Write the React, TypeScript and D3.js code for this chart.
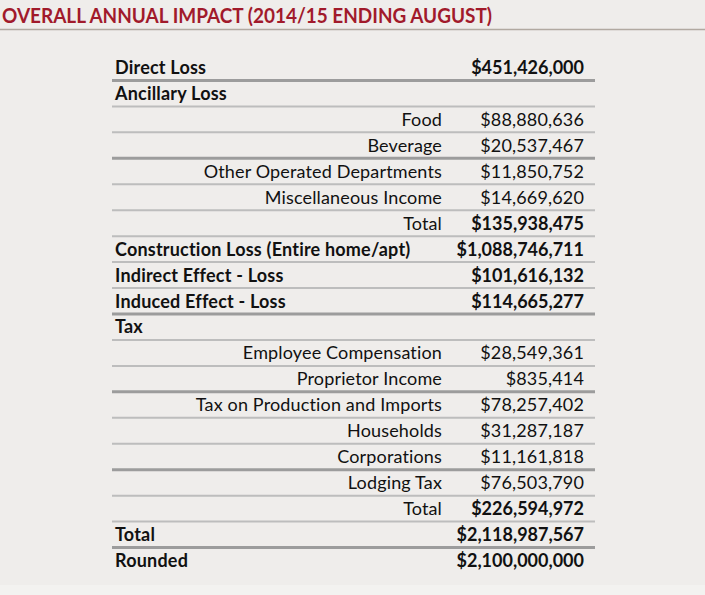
import React from "react";
import * as d3 from "d3";

const title = "OVERALL ANNUAL IMPACT (2014/15 ENDING AUGUST)";

const labels = [
  "Direct Loss", "Ancillary Loss", "Food", "Beverage", "Other Operated Departments",
  "Miscellaneous Income", "Total", "Construction Loss (Entire home/apt)",
  "Indirect Effect - Loss", "Induced Effect - Loss", "Tax", "Employee Compensation",
  "Proprietor Income", "Tax on Production and Imports", "Households", "Corporations",
  "Lodging Tax", "Total", "Total", "Rounded",
];
const values: (number | null)[] = [
  451426000, null, 88880636, 20537467, 11850752, 14669620, 135938475, 1088746711,
  101616132, 114665277, null, 28549361, 835414, 78257402, 31287187, 11161818,
  76503790, 226594972, 2118987567, 2100000000,
];
// "h" = bold heading row, "s" = indented sub item, "t" = sub total
const kinds = [
  "h", "h", "s", "s", "s", "s", "t", "h", "h", "h", "h", "s", "s", "s", "s", "s", "s", "t", "h", "h",
];
// separator under each row: 2 = heavy, 1 = light, 0 = none
const rules = [2, 1, 1, 2, 1, 1, 1, 1, 1, 2, 1, 1, 2, 1, 1, 2, 1, 1, 2, 0];

const W = 705, H = 595;
const FONT = "Lato, 'Open Sans', sans-serif";

export default function App() {
  const idx = labels.map((_, i) => i);
  const y = d3.scaleBand<number>().domain(idx).range([54.5, 573.5]).paddingInner(0);
  const fmt = d3.format("$,");
  const xLeft = 112, xRight = 595, xLabelR = 442, xValR = 584, xHead = 115;
  return (
    <svg width={W} height={H} style={{ position: "absolute", left: 0, top: 0, display: "block" }}>
      <rect x={0} y={0} width={W} height={H} fill="#efedeb" />
      <rect x={0} y={585} width={W} height={10} fill="#f3f2f0" />
      <text x={2} y={23} fill="#a11a2b" fontFamily={FONT} fontWeight={700} fontSize={21}
        textLength={490} lengthAdjust="spacingAndGlyphs">{title}</text>
      <line x1={0} x2={W} y1={29.5} y2={29.5} stroke="#b1a9a1" strokeWidth={1.5} />
      {idx.map((i) => {
        const yc = (y(i) as number) + y.bandwidth() / 2;
        const yb = (y(i) as number) + y.bandwidth();
        const k = kinds[i];
        const v = values[i];
        const bold = k === "h";
        return (
          <g key={i}>
            {rules[i] > 0 && (
              <line x1={xLeft} x2={xRight} y1={yb} y2={yb}
                stroke={rules[i] === 2 ? "#9c9c9c" : "#bdbdbd"}
                strokeWidth={rules[i] === 2 ? 3 : 2} />
            )}
            <text
              x={bold ? xHead : xLabelR}
              y={yc}
              dy="0.36em"
              textAnchor={bold ? "start" : "end"}
              fontFamily={FONT}
              fontWeight={bold ? 700 : 400}
              fontSize={18}
              letterSpacing={bold ? 0.2 : 0.15}
              fill="#111"
            >{labels[i]}</text>
            {v !== null && (
              <text x={xValR} y={yc} dy="0.36em" textAnchor="end" fontFamily={FONT}
                fontWeight={k === "s" ? 400 : 700} fontSize={18}
                letterSpacing={k === "s" ? 0.15 : 0} fill="#111">{fmt(v)}</text>
            )}
          </g>
        );
      })}
    </svg>
  );
}
